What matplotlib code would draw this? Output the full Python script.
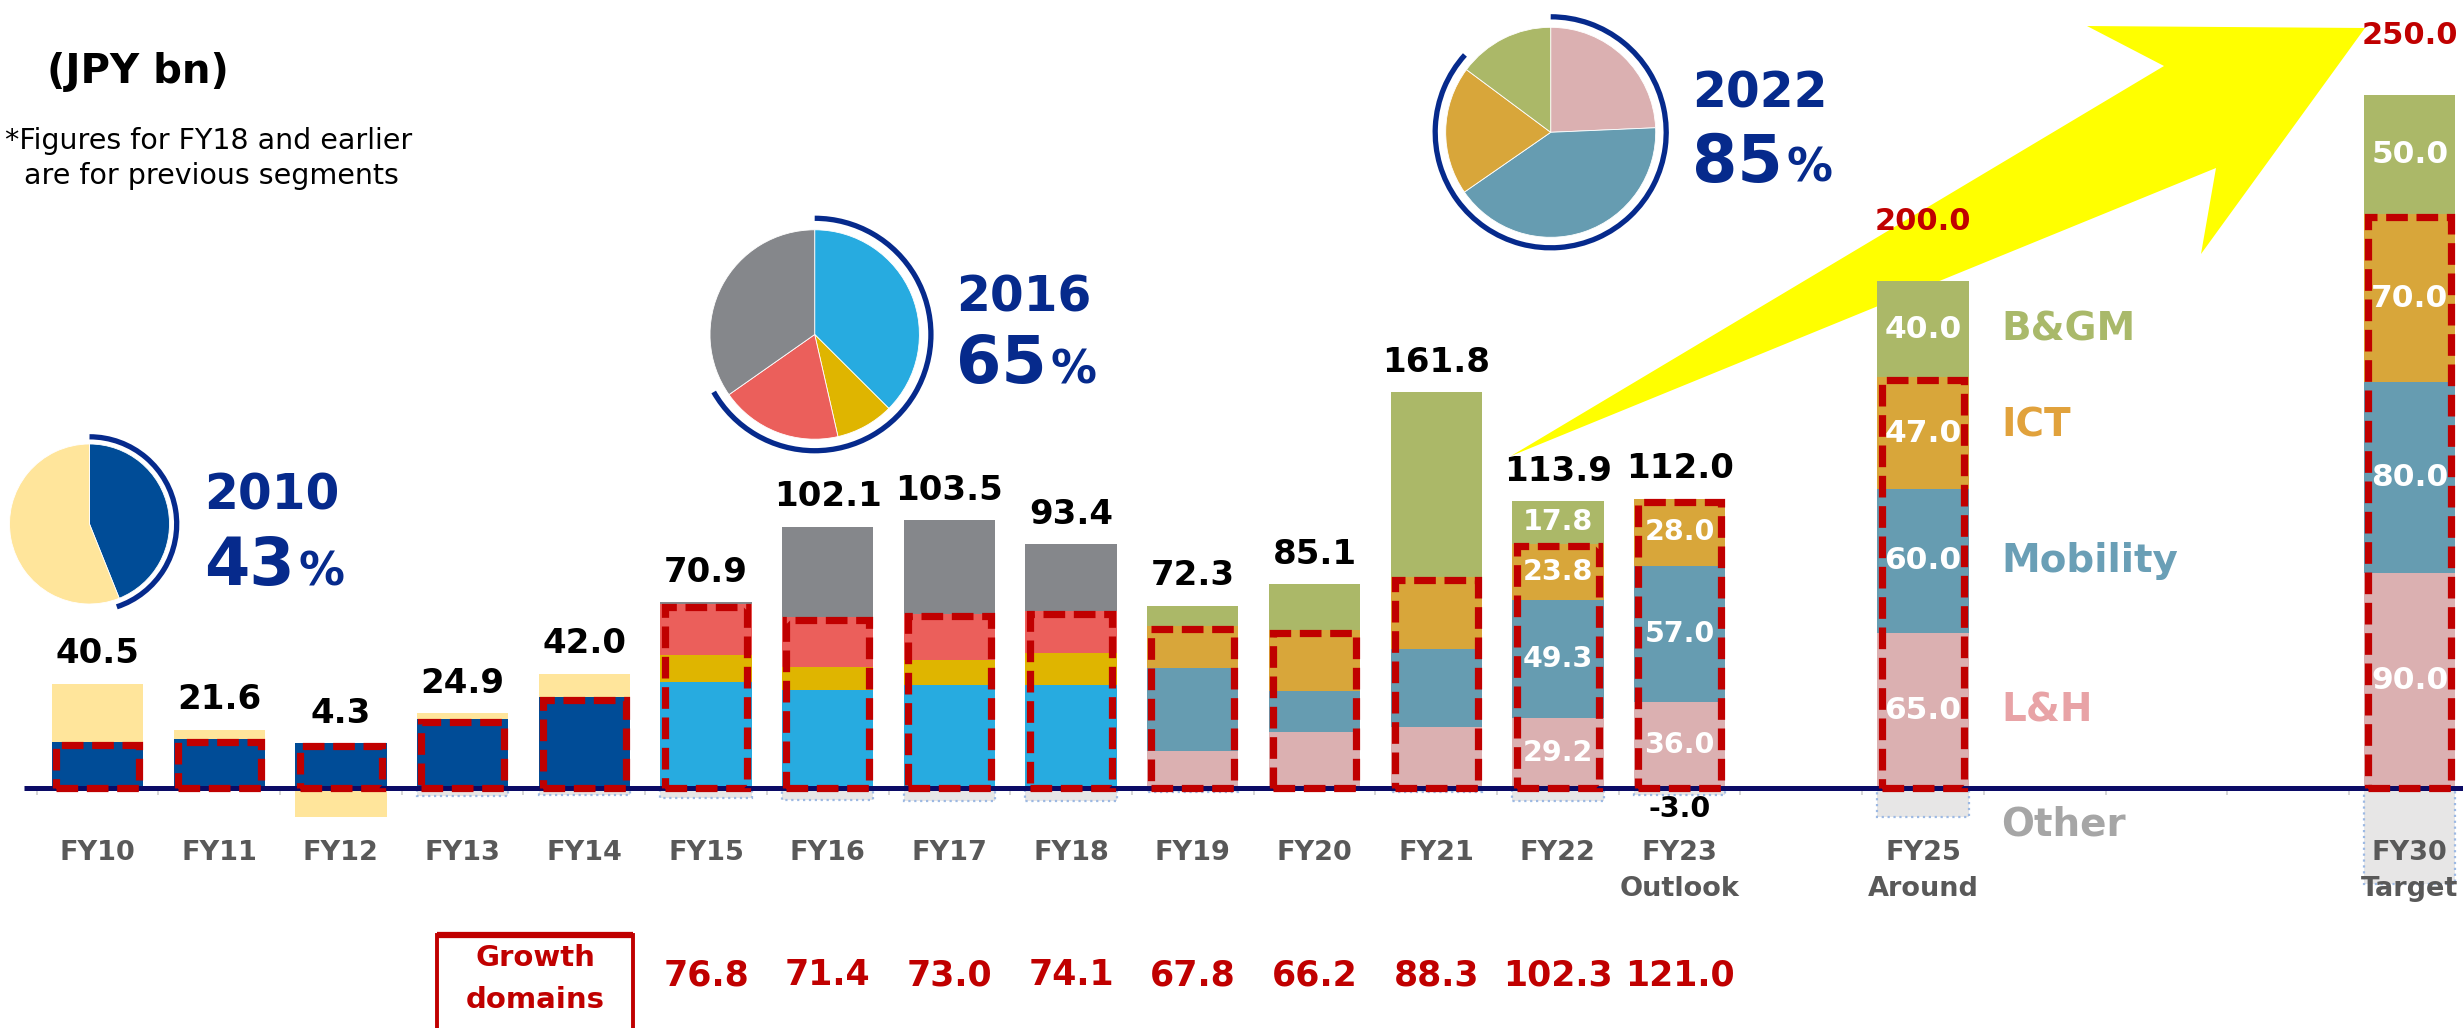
import matplotlib
matplotlib.use("Agg")
import matplotlib.pyplot as plt
from matplotlib.patches import Rectangle, Polygon, Arc
import numpy as np

plt.rcParams['font.family'] = ['DejaVu Sans']

# ---------------- data ----------------
categories = ["FY10", "FY11", "FY12", "FY13", "FY14", "FY15", "FY16", "FY17", "FY18",
              "FY19", "FY20", "FY21", "FY22", "FY23", "FY25", "FY30"]
sub_labels = [""] * 13 + ["Outlook", "Around", "Target"]
totals = [40.5, 21.6, 4.3, 24.9, 42.0, 70.9, 102.1, 103.5, 93.4,
          72.3, 85.1, 161.8, 113.9, 112.0, 200.0, 250.0]
growth_domains = [76.8, 71.4, 73.0, 74.1, 67.8, 66.2, 88.3, 102.3, 121.0]   # FY15-FY23

# FY10-FY14 (previous segments): growth part and remaining part
old_growth = [19.2, 20.6, 18.8, 28.9, 37.9]
old_rest = [24.5, 3.8, -12.3, 2.5, 9.9]
# FY15-FY18 (previous segments)
prev_a = [44.5, 41.0, 43.0, 43.0]    # light blue
prev_b = [11.0, 9.8, 10.5, 13.3]     # yellow
prev_c = [21.3, 20.6, 19.5, 17.8]    # red
prev_d = [1.0, 38.0, 39.0, 27.8]     # grey (non growth)
# FY19-FY30 (current segments)
lh = [15.4, 23.4, 25.6, 29.2, 36.0, 65.0, 90.0]
mobility = [35.0, 17.3, 32.7, 49.3, 57.0, 60.0, 80.0]
ict = [17.4, 25.5, 30.0, 23.8, 28.0, 47.0, 70.0]
bgm = [8.5, 19.0, 77.2, 17.8, 0.0, 40.0, 50.0]
other = [0, 0, 0, -3.5, -3.0, -4.0, -5.0, -5.5, -5.5, -1.5, 0, -1.5, -5.5, -3.0, -12.0, -40.0]
labelled_years = ["FY22", "FY23", "FY25", "FY30"]
legend_names = ["B&GM", "ICT", "Mobility", "L&H", "Other"]
pie_years = ["2010", "2016", "2022"]
pie_pcts = ["43", "65", "85"]

# ---------------- style ----------------
BLUE_OLD, YEL_OLD = "#004C97", "#FFE59B"
C_A, C_B, C_C, C_D = "#27ABE0", "#DFB500", "#EB5F5B", "#85878B"
C_LH, C_MOB, C_ICT, C_BGM = "#DBB0B1", "#669CB1", "#D8A63A", "#ABB868"
LEG_COLORS = ["#A9B96A", "#E1A23C", "#6A9FB6", "#E8A3A6", "#A6A6A6"]
C_OTHER, C_OTHER_EDGE = "#E7E6E6", "#9DB9E3"
RED = "#C00000"
NAVY = "#062A8C"
AXNAVY = "#0B0B66"
LABEL_GREY = "#595959"

W, H = 2463, 1028
PXU = 2.39        # pixels per unit
ZERO = 788        # pixel row of zero
X0, DX = 97.5, 121.7
BW = 0.75

fig = plt.figure(figsize=(W / 100, H / 100), dpi=100)
ax = fig.add_axes([0, 0, 1, 1])
ax.set_xlim(-X0 / DX, (W - X0) / DX)
ax.set_ylim(-(H - ZERO) / PXU, ZERO / PXU)
ax.axis('off')

def px2d(xp, yp):
    return (xp - X0) / DX, (ZERO - yp) / PXU

xpos = np.array(list(range(14)) + [15, 19], dtype=float)
n_old, n_prev = len(old_growth), len(prev_a)
x_old = xpos[:n_old]
x_prev = xpos[n_old:n_old + n_prev]
x_new = xpos[n_old + n_prev:]

old_growth_a = np.array(old_growth)
old_rest_a = np.array(old_rest)
pa, pb, pc, pd = map(np.array, (prev_a, prev_b, prev_c, prev_d))
lh_a, mob_a, ict_a, bgm_a = map(np.array, (lh, mobility, ict, bgm))

# bars
ax.bar(x_old, old_growth_a, BW, color=BLUE_OLD, zorder=2)
ax.bar(x_old, old_rest_a, BW, bottom=np.where(old_rest_a > 0, old_growth_a, 0), color=YEL_OLD, zorder=2)

ax.bar(x_prev, pa, BW, color=C_A, zorder=2)
ax.bar(x_prev, pb, BW, bottom=pa, color=C_B, zorder=2)
ax.bar(x_prev, pc, BW, bottom=pa + pb, color=C_C, zorder=2)
ax.bar(x_prev, pd, BW, bottom=pa + pb + pc, color=C_D, zorder=2)

ax.bar(x_new, lh_a, BW, color=C_LH, zorder=2)
ax.bar(x_new, mob_a, BW, bottom=lh_a, color=C_MOB, zorder=2)
ax.bar(x_new, ict_a, BW, bottom=lh_a + mob_a, color=C_ICT, zorder=2)
ax.bar(x_new, bgm_a, BW, bottom=lh_a + mob_a + ict_a, color=C_BGM, zorder=2)

oth = np.array(other, dtype=float)
mask = oth < 0
ax.bar(xpos[mask], oth[mask], BW, color=C_OTHER, edgecolor=C_OTHER_EDGE,
       linestyle=':', linewidth=1.6, zorder=1.5)

# tops
growth_top = np.concatenate([old_growth_a, pa + pb + pc, lh_a + mob_a + ict_a])
stack_top = np.concatenate([old_growth_a + np.maximum(old_rest_a, 0),
                            pa + pb + pc + pd, lh_a + mob_a + ict_a + bgm_a])

# axis line and ticks
ax.hlines(0, -0.6, 19.5, color=AXNAVY, lw=3.6, zorder=3)
ax.vlines(np.arange(-0.5, 19.0, 1.0), -2.8, 0, color="#CFCFCF", lw=1.2, zorder=1)

# red dashed growth boxes
d = 0.035
for x, g in zip(xpos, growth_top):
    r = Rectangle((x - BW / 2 + d, 0), BW - 2 * d, g - 1.2, fill=False,
                  edgecolor=RED, lw=5.2, linestyle=(0, (3.0, 1.2)), zorder=4)
    ax.add_patch(r)

# total labels
for i, (x, t, top) in enumerate(zip(xpos, totals, stack_top)):
    if categories[i] in ("FY25", "FY30"):
        ax.annotate(f"{t:.1f}", (x, top), xytext=(0, 43), textcoords='offset points',
                    ha='center', va='center', fontsize=22, fontweight='bold', color=RED, zorder=6)
    else:
        ax.annotate(f"{t:.1f}", (x, top), xytext=(0, 21.5), textcoords='offset points',
                    ha='center', va='center', fontsize=24.5, fontweight='bold', color='black', zorder=6)

# segment labels inside bars
for j, cat in enumerate(categories[n_old + n_prev:]):
    if cat not in labelled_years:
        continue
    x = x_new[j]
    fs = 20.5 if cat in ("FY22", "FY23") else 22.5
    bottom = 0
    for v in (lh_a[j], mob_a[j], ict_a[j], bgm_a[j]):
        if v > 0:
            ax.text(x, bottom + v / 2, f"{v:.1f}", ha='center', va='center', color='white',
                    fontsize=fs, fontweight='bold', zorder=6)
        bottom += v

# "-3.0" for FY23 other
i23 = categories.index("FY23")
ax.annotate(f"{other[i23]:.1f}", (xpos[i23], other[i23]), xytext=(0, -10), textcoords='offset points',
            ha='center', va='center', fontsize=20.5, fontweight='bold', color='black', zorder=6)

# category labels
for x, c, s in zip(xpos, categories, sub_labels):
    ax.text(x, px2d(0, 853)[1], c, ha='center', va='center', fontsize=19.5,
            fontweight='bold', color=LABEL_GREY, zorder=6)
    if s:
        ax.text(x, px2d(0, 889)[1], s, ha='center', va='center', fontsize=19.5,
                fontweight='bold', color=LABEL_GREY, zorder=6)

# legend-like labels next to FY25
i25 = categories.index("FY25")
j25 = i25 - n_old - n_prev
cum = np.cumsum([0, lh_a[j25], mob_a[j25], ict_a[j25], bgm_a[j25]])
seg_centers = {"L&H": (cum[0] + cum[1]) / 2, "Mobility": (cum[1] + cum[2]) / 2,
               "ICT": (cum[2] + cum[3]) / 2 + 3, "B&GM": (cum[3] + cum[4]) / 2,
               "Other": px2d(0, 825)[1]}
lx = px2d(2001, 0)[0]
for name, col in zip(legend_names, LEG_COLORS):
    ax.text(lx, seg_centers[name], name, ha='left', va='center', fontsize=28,
            fontweight='bold', color=col, zorder=6)

# growth domains row
gx0, _ = px2d(437, 0)
gx1, _ = px2d(633, 0)
gy = px2d(0, 935)[1]
ax.add_patch(Rectangle((gx0, gy - 80), gx1 - gx0, 80, fill=False, edgecolor=RED, lw=2.8,
                       clip_on=False, zorder=5))
ax.hlines(gy, gx0, gx1, color=RED, lw=4.5, zorder=5)
gcx = (gx0 + gx1) / 2
ax.text(gcx, px2d(0, 958)[1], "Growth", ha='center', va='center', fontsize=21,
        fontweight='bold', color=RED, zorder=6)
ax.text(gcx, px2d(0, 1000)[1], "domains", ha='center', va='center', fontsize=21,
        fontweight='bold', color=RED, zorder=6)
for x, v in zip(xpos[n_old:n_old + len(growth_domains)], growth_domains):
    ax.text(x, px2d(0, 975)[1], f"{v:.1f}", ha='center', va='center', fontsize=25,
            fontweight='bold', color=RED, zorder=6)

# yellow arrow (decoration, pixel coordinates)
arrow_px = [(1511, 456), (2164, 66), (2087, 26), (2365, 28), (2201, 254), (2216, 168)]
arrow_fig = [(x / W, 1 - y / H) for x, y in arrow_px]
ax.add_patch(Polygon(arrow_fig, closed=True, facecolor="#FFFF00", edgecolor='none',
                     transform=fig.transFigure, zorder=0.5))

# header texts
fig.text(47 / W, 1 - 72 / H, "(JPY bn)", fontsize=29, fontweight='bold', va='center', ha='left')
fig.text(5 / W, 1 - 141 / H, "*Figures for FY18 and earlier", fontsize=20.5, va='center', ha='left')
fig.text(24 / W, 1 - 176 / H, "are for previous segments", fontsize=20.5, va='center', ha='left')

# pies
def add_pie(cx, cy, r, values, colors, ring_frac, ring_scale=1.10):
    side = 2 * 1.25 * r
    a = fig.add_axes([(cx - side / 2) / W, 1 - (cy + side / 2) / H, side / W, side / H])
    a.pie(values, colors=colors, startangle=90, counterclock=False, radius=1,
          wedgeprops=dict(edgecolor='white', linewidth=0.6))
    a.set_xlim(-1.25, 1.25)
    a.set_ylim(-1.25, 1.25)
    a.set_aspect('equal')
    a.axis('off')
    a.add_patch(Arc((0, 0), 2 * ring_scale, 2 * ring_scale, theta1=90 - 360 * ring_frac, theta2=90,
                    color=NAVY, lw=3.8))

i10, i16, i22 = categories.index("FY10"), categories.index("FY16"), categories.index("FY22")
v10 = [old_growth[i10], old_rest[i10]]
k16 = i16 - n_old
v16 = [prev_a[k16], prev_b[k16], prev_c[k16], prev_d[k16]]
k22 = i22 - n_old - n_prev
v22 = [lh[k22], mobility[k22], ict[k22], bgm[k22]]
add_pie(89.5, 524, 80, v10, [BLUE_OLD, YEL_OLD], v10[0] / sum(v10) + 0.01, 1.09)
add_pie(814.7, 334.5, 104.7, v16, [C_A, C_B, C_C, C_D], sum(v16[:3]) / sum(v16) + 0.015, 1.11)
add_pie(1550.7, 132.3, 105, v22, [C_LH, C_MOB, C_ICT, C_BGM], sum(v22[:3]) / sum(v22) + 0.015, 1.10)

renderer = fig.canvas.get_renderer()
pie_text_pos = [(204, 510, 585), (956, 312, 383), (1692, 108, 182)]
for (tx, yb, pb_), yr, pc in zip(pie_text_pos, pie_years, pie_pcts):
    fig.text(tx / W, 1 - yb / H, yr, fontsize=35, fontweight='bold', color=NAVY,
             ha='left', va='baseline')
    t = fig.text(tx / W, 1 - pb_ / H, pc, fontsize=47, fontweight='bold', color=NAVY,
                 ha='left', va='baseline')
    bb = t.get_window_extent(renderer)
    fig.text((bb.x1 + 4) / W, 1 - pb_ / H, "%", fontsize=33, fontweight='bold', color=NAVY,
             ha='left', va='baseline')

fig.savefig("out.png", dpi=100)
